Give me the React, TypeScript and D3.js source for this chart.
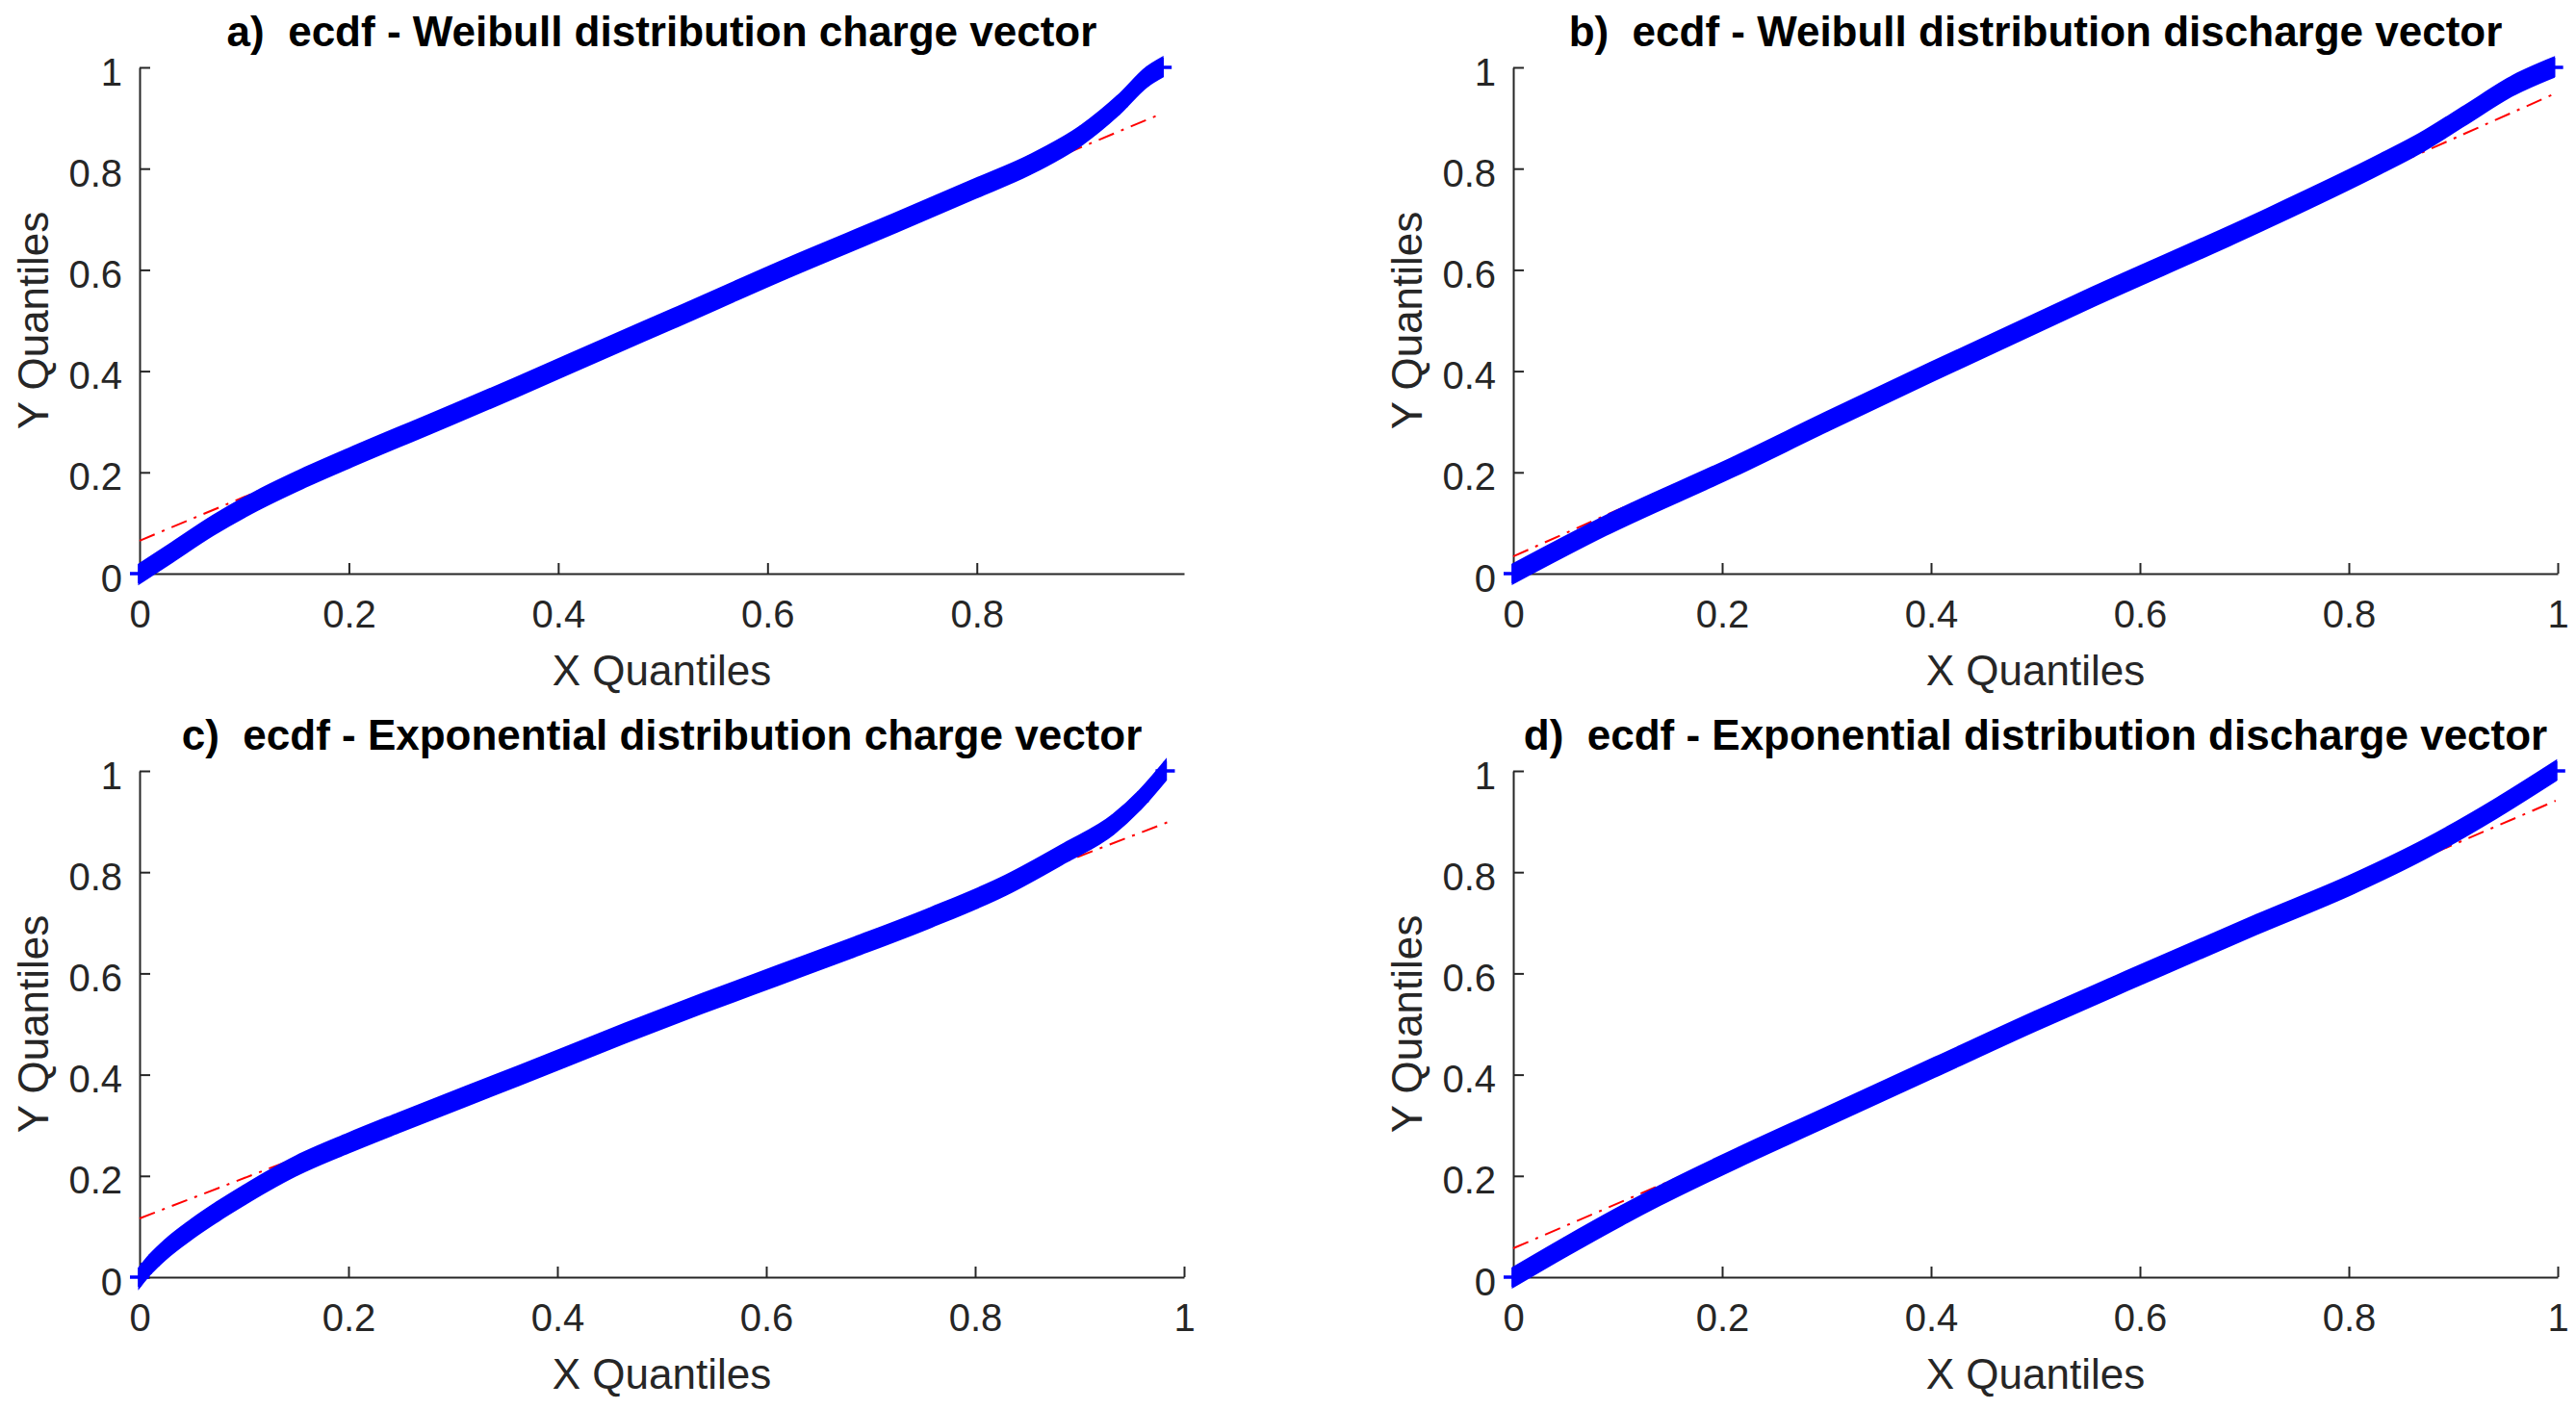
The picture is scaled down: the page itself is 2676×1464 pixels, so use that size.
import { useEffect, useRef } from 'react';
import * as d3 from 'd3';

type Pt = [number, number];

// ─── Data ───────────────────────────────────────────────────

const TITLES = [
  'a)  ecdf - Weibull distribution charge vector',
  'b)  ecdf - Weibull distribution discharge vector',
  'c)  ecdf - Exponential distribution charge vector',
  'd)  ecdf - Exponential distribution discharge vector',
];

const X_LABEL = 'X Quantiles';
const Y_LABEL = 'Y Quantiles';

const X_TICKS_A = [0, 0.2, 0.4, 0.6, 0.8];
const X_TICKS = [0, 0.2, 0.4, 0.6, 0.8, 1];
const Y_TICKS = [0, 0.2, 0.4, 0.6, 0.8, 1];
const X_MAX = [0.998, 1, 1, 1];

// sample quantiles (x = theoretical, y = data)
const QQ_A: Pt[] = [
  [0, 0], [0.031, 0.042], [0.07, 0.095], [0.113, 0.145], [0.155, 0.187],
  [0.2, 0.228], [0.278, 0.296], [0.36, 0.368], [0.45, 0.45], [0.51, 0.504],
  [0.6175, 0.602], [0.7235, 0.694], [0.8, 0.762], [0.85, 0.807], [0.9, 0.866],
  [0.935, 0.925], [0.963, 0.982], [0.977, 1],
];
const QQ_B: Pt[] = [
  [0, 0], [0.0885, 0.095], [0.212, 0.212], [0.3, 0.3], [0.4, 0.398],
  [0.553, 0.545], [0.712, 0.692], [0.831, 0.81], [0.868, 0.85], [0.911, 0.905],
  [0.958, 0.965], [0.996, 1],
];
const QQ_C: Pt[] = [
  [0, 0], [0.01, 0.025], [0.025, 0.055], [0.05, 0.095], [0.075, 0.13],
  [0.1, 0.162], [0.123, 0.19], [0.15, 0.22], [0.2, 0.265], [0.248, 0.305],
  [0.363, 0.398], [0.465, 0.482], [0.538, 0.54], [0.611, 0.596], [0.684, 0.652],
  [0.757, 0.71], [0.829, 0.774], [0.885, 0.837], [0.932, 0.894], [0.957, 0.941],
  [0.982, 1],
];
const QQ_D: Pt[] = [
  [0, 0], [0.05, 0.06], [0.104, 0.122], [0.141, 0.162], [0.217, 0.238],
  [0.291, 0.308], [0.404, 0.415], [0.5, 0.506], [0.576, 0.575], [0.712, 0.697],
  [0.804, 0.777], [0.873, 0.846], [0.941, 0.926], [0.998, 1],
];

// fitted reference lines (red dash-dot)
const REF_A: Pt[] = [[0, 0.065], [0.977, 0.909]];
const REF_B: Pt[] = [[0, 0.034], [0.996, 0.947]];
const REF_C: Pt[] = [[0, 0.116], [0.986, 0.9]];
const REF_D: Pt[] = [[0, 0.057], [0.998, 0.941]];

const SERIES = [QQ_A, QQ_B, QQ_C, QQ_D];
const REFS = [REF_A, REF_B, REF_C, REF_D];

// ─── Layout ─────────────────────────────────────────────────

const W = 2676;
const H = 1464;
const COLS: [number, number][] = [[145, 1230], [1572, 2657]];
const ROWS: [number, number][] = [[596, 70], [1327, 801]];
const FONT = '"Liberation Sans", Arial, Helvetica, sans-serif';
const AX = '#262626';
const BAND = 9.5; // half height of the marker band (px)
const ARM = 10;

const fmt = (d: d3.NumberValue) => String(+(+d).toFixed(1));

export default function App() {
  const svgRef = useRef<SVGSVGElement>(null);

  useEffect(() => {
    if (!svgRef.current) return;
    const svg = d3.select(svgRef.current);
    svg.selectAll('*').remove();

    SERIES.forEach((pts, i) => {
      const [xr0, xr1] = COLS[i % 2];
      const [yr0, yr1] = ROWS[Math.floor(i / 2)];
      const x = d3.scaleLinear().domain([0, X_MAX[i]]).range([xr0, xr1]);
      const y = d3.scaleLinear().domain([0, 1]).range([yr0, yr1]);
      const g = svg.append('g');

      // Axes (below data, MATLAB default layer)
      const styleAxis = (sel: d3.Selection<SVGGElement, unknown, null, undefined>) => {
        sel.style('color', AX).attr('font-family', FONT).attr('font-size', 40);
        sel.selectAll('.domain').attr('stroke-width', 2);
        sel.selectAll('.tick line').attr('stroke-width', 2);
      };

      g.append('g')
        .attr('transform', `translate(0,${y(0)})`)
        .call(d3.axisBottom(x)
          .tickValues(i === 0 ? X_TICKS_A : X_TICKS)
          .tickFormat(fmt)
          .tickSizeInner(-11)
          .tickSizeOuter(0)
          .tickPadding(28))
        .call(styleAxis);

      g.append('g')
        .attr('transform', `translate(${x(0)},0)`)
        .call(d3.axisLeft(y)
          .tickValues(Y_TICKS)
          .tickFormat(fmt)
          .tickSizeInner(-11)
          .tickSizeOuter(0)
          .tickPadding(18))
        .call(styleAxis)
        .call((sel) => sel.selectAll('text').attr('dy', '0.45em'));

      // Reference line
      const line = d3.line<Pt>().x((d) => x(d[0])).y((d) => y(d[1]));
      g.append('path')
        .datum(REFS[i])
        .attr('d', line)
        .attr('fill', 'none')
        .attr('stroke', '#ff0000')
        .attr('stroke-width', 2)
        .attr('stroke-dasharray', '17 8 3 8');

      // Data band ('+' markers packed densely)
      const band = d3.area<Pt>()
        .x((d) => x(d[0]))
        .y0((d) => y(d[1]) + BAND)
        .y1((d) => y(d[1]) - BAND)
        .curve(d3.curveMonotoneX);
      g.append('path')
        .datum(pts)
        .attr('d', band)
        .attr('fill', '#0000ff')
        .attr('stroke', '#0000ff')
        .attr('stroke-width', 3);

      g.append('g').selectAll('path')
        .data(pts)
        .join('path')
        .attr('d', (d) => {
          const cx = x(d[0]);
          const cy = y(d[1]);
          return `M${cx - ARM},${cy}H${cx + ARM}M${cx},${cy - ARM}V${cy + ARM}`;
        })
        .attr('stroke', '#0000ff')
        .attr('stroke-width', 3.5)
        .attr('fill', 'none');

      const cx = (xr0 + xr1) / 2;

      // Labels
      g.append('text')
        .attr('x', cx)
        .attr('y', yr0 + 116)
        .attr('text-anchor', 'middle')
        .attr('font-family', FONT)
        .attr('font-size', 44)
        .attr('fill', AX)
        .text(X_LABEL);

      g.append('text')
        .attr('transform', `translate(${xr0 - 95},${(yr0 + yr1) / 2}) rotate(-90)`)
        .attr('text-anchor', 'middle')
        .attr('font-family', FONT)
        .attr('font-size', 44)
        .attr('fill', AX)
        .text(Y_LABEL);

      g.append('text')
        .attr('x', cx)
        .attr('y', yr1 - 22)
        .attr('text-anchor', 'middle')
        .attr('font-family', FONT)
        .attr('font-size', 44)
        .attr('font-weight', 'bold')
        .attr('fill', '#000')
        .style('white-space', 'pre')
        .text(TITLES[i]);
    });
  }, []);

  return (
    <svg
      ref={svgRef}
      width={W}
      height={H}
      style={{ position: 'absolute', left: 0, top: 0, background: '#fff' }}
    />
  );
}
